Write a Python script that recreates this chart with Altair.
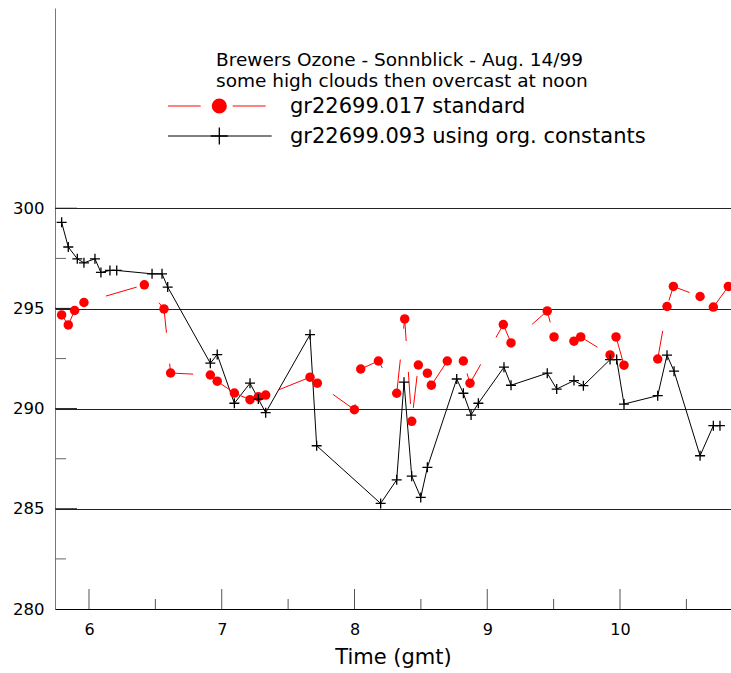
import altair as alt
import pandas as pd

TITLE_1 = "Brewers Ozone - Sonnblick - Aug. 14/99"
TITLE_2 = "some high clouds then overcast at noon"
LABEL_STD = "gr22699.017 standard"
LABEL_ORG = "gr22699.093 using org. constants"
X_TITLE = "Time (gmt)"

# gr22699.017 standard (red)
std_time = [5.794, 5.844, 5.892, 5.962, 6.417, 6.565, 6.615, 6.914, 6.966, 7.095,
            7.213, 7.276, 7.331, 7.665, 7.72, 7.999, 8.047, 8.18, 8.318, 8.378,
            8.431, 8.481, 8.549, 8.579, 8.699, 8.82, 8.87, 9.121, 9.179, 9.452,
            9.503, 9.653, 9.704, 9.925, 9.97, 10.03, 10.284, 10.354, 10.402, 10.603,
            10.703, 10.816]
std_ozone = [294.68, 294.18, 294.9, 295.3, 296.18, 294.98, 291.78, 291.68, 291.37, 290.78,
             290.45, 290.6, 290.68, 291.57, 291.27, 289.95, 291.98, 292.38, 290.77, 294.48,
             289.37, 292.18, 291.77, 291.17, 292.38, 292.38, 291.27, 294.2, 293.28, 294.88,
             293.58, 293.37, 293.58, 292.68, 293.58, 292.17, 292.48, 295.1, 296.1, 295.6,
             295.07, 296.1]

# gr22699.093 using org. constants (black)
org_time = [5.794, 5.844, 5.912, 5.962, 6.045, 6.09, 6.158, 6.209, 6.475, 6.55,
            6.593, 6.914, 6.966, 7.095, 7.213, 7.276, 7.331, 7.665, 7.715, 8.197,
            8.318, 8.373, 8.431, 8.499, 8.549, 8.77, 8.82, 8.878, 8.933, 9.126,
            9.179, 9.452, 9.523, 9.653, 9.724, 9.925, 9.975, 10.03, 10.284, 10.354,
            10.407, 10.603, 10.703, 10.753]
org_ozone = [299.3, 298.07, 297.48, 297.28, 297.48, 296.8, 296.9, 296.9, 296.73, 296.73,
             296.07, 292.27, 292.7, 290.27, 291.27, 290.48, 289.8, 293.7, 288.15, 285.27,
             286.45, 291.32, 286.63, 285.57, 287.07, 291.48, 290.77, 289.68, 290.27, 292.07,
             291.17, 291.77, 290.98, 291.4, 291.15, 292.45, 292.45, 290.23, 290.65, 292.67,
             291.87, 287.65, 289.15, 289.15]

y_ticks = [280, 285, 290, 295, 300]
y_major = [285, 290, 295, 300]
y_minor = [282.5, 287.5, 292.5, 297.5]
x_ticks = [6, 7, 8, 9, 10]
x_minor = [6.5, 7.5, 8.5, 9.5, 10.5]

X_DOMAIN = [5.744, 10.836]
Y_DOMAIN = [280, 310]
W, H = 676, 601
FONT = "DejaVu Sans"

xs = alt.Scale(domain=X_DOMAIN, nice=False, zero=False)
ys = alt.Scale(domain=Y_DOMAIN, nice=False, zero=False)

x_axis = alt.Axis(
    values=x_ticks, title=X_TITLE, ticks=False, grid=False, domainColor="black",
    labelFontSize=16, labelColor="black", labelPadding=12, titleFontSize=21,
    titleFontWeight="normal", titleColor="black", titlePadding=9, labelFont=FONT,
    titleFont=FONT)
y_axis = alt.Axis(
    values=y_ticks, title=None, ticks=False, grid=True, gridColor="#222",
    gridWidth=1, domainColor="#777", labelFontSize=16.5, labelColor="black",
    labelPadding=11, labelFont=FONT)


def X(field="time"):
    return alt.X(f"{field}:Q", scale=xs, axis=x_axis, title=X_TITLE)


def Y(field="ozone"):
    return alt.Y(f"{field}:Q", scale=ys, axis=y_axis, title=None)


std_df = pd.DataFrame({"time": std_time, "ozone": std_ozone})
org_df = pd.DataFrame({"time": org_time, "ozone": org_ozone})

CROSS = "M-1,0L1,0M0,-1L0,1"

org_line = alt.Chart(org_df).mark_line(color="black", strokeWidth=1).encode(
    x=X(), y=Y(), order="time:Q")

std_line = alt.Chart(std_df).mark_line(color="red", strokeWidth=1, strokeDash=[32, 31]).encode(
    x=X(), y=Y(), order="time:Q")

std_pts = alt.Chart(std_df).mark_point(shape="circle", filled=True, size=90, color="red",
                                       opacity=1).encode(x=X(), y=Y())

org_pts = alt.Chart(org_df).mark_point(shape=CROSS, size=100, color="black", strokeWidth=1.3,
                                       opacity=1).encode(x=X(), y=Y())

ytm = alt.Chart(pd.DataFrame({"ozone": y_major})).mark_rule(color="#222", strokeWidth=1.2).encode(
    y=Y(), x=alt.value(0), x2=alt.value(22))
ytn = alt.Chart(pd.DataFrame({"ozone": y_minor})).mark_rule(color="#666").encode(
    y=Y(), x=alt.value(0), x2=alt.value(11))
xtm = alt.Chart(pd.DataFrame({"time": x_ticks})).mark_rule(color="#555").encode(
    x=X(), y=alt.value(H), y2=alt.value(H - 20))
xtn = alt.Chart(pd.DataFrame({"time": x_minor})).mark_rule(color="#555").encode(
    x=X(), y=alt.value(H), y2=alt.value(H - 10))


def text_layer(txt, x, y, size):
    return alt.Chart(pd.DataFrame({"t": [txt]})).mark_text(
        align="left", baseline="alphabetic", font=FONT, fontSize=size, color="black"
    ).encode(x=alt.value(x), y=alt.value(y), text="t:N")


t1 = text_layer(TITLE_1, 161, 58, 18.5)
t2 = text_layer(TITLE_2, 161, 79.3, 18.5)
l1 = text_layer(LABEL_STD, 235, 105.3, 21)
l2 = text_layer(LABEL_ORG, 235, 135.3, 21)

one = pd.DataFrame({"k": [0]})
leg_r1 = alt.Chart(one).mark_rule(color="red", strokeWidth=1).encode(
    x=alt.value(113), x2=alt.value(145.7), y=alt.value(98))
leg_r2 = alt.Chart(one).mark_rule(color="red", strokeWidth=1).encode(
    x=alt.value(177.7), x2=alt.value(210.7), y=alt.value(98))
leg_rp = alt.Chart(one).mark_point(shape="circle", filled=True, size=227, color="red",
                                   opacity=1).encode(x=alt.value(164.3), y=alt.value(98))
leg_b = alt.Chart(one).mark_rule(color="black", strokeWidth=1).encode(
    x=alt.value(113), x2=alt.value(216.7), y=alt.value(128))
leg_bp = alt.Chart(one).mark_point(shape=CROSS, size=289, color="black", strokeWidth=1.3,
                                   opacity=1).encode(x=alt.value(164.3), y=alt.value(128))

chart = alt.layer(
    org_line, ytm, ytn, xtm, xtn, std_line, std_pts, org_pts,
    t1, t2, l1, l2, leg_r1, leg_r2, leg_rp, leg_b, leg_bp,
).resolve_scale(x="shared", y="shared").properties(
    width=W, height=H, autosize=alt.AutoSizeParams(type="none"),
    padding={"left": 55, "top": 8, "right": 0, "bottom": 64},
    background="white",
).configure_view(stroke=None)

chart.save("out.html", embed_options={"renderer": "svg", "actions": False})
